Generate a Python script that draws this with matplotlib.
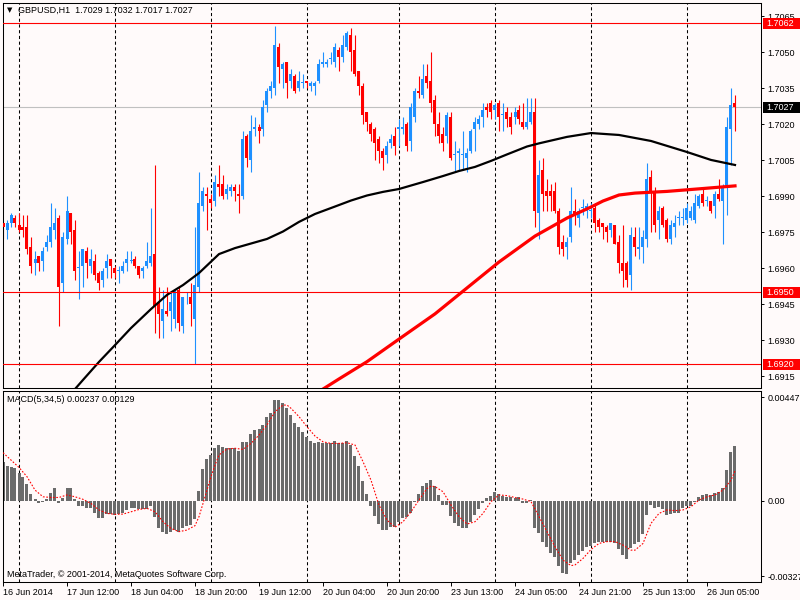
import matplotlib
matplotlib.use('Agg')
import matplotlib.pyplot as plt
from matplotlib.patches import Rectangle
from matplotlib import transforms

# GBPUSD H1, bar 0 = 16 Jun 20:00
opens = [1.6979, 1.6976, 1.6979, 1.6981, 1.6978, 1.6977, 1.6977, 1.6969, 1.6962, 1.6965,
         1.6963, 1.6969, 1.6971, 1.6976, 1.6981, 1.6954, 1.6972, 1.6983, 1.6976, 1.6960,
         1.6961, 1.6967, 1.6961, 1.6963, 1.6958, 1.6955, 1.6960, 1.6964, 1.6960, 1.6959,
         1.6959, 1.6962, 1.6963, 1.6964, 1.6961, 1.6959, 1.6961, 1.6962, 1.6966, 1.6946,
         1.6938, 1.6942, 1.6942, 1.6939, 1.6951, 1.6936, 1.6947, 1.6948, 1.6939, 1.6952,
         1.6986, 1.6991, 1.6989, 1.6988, 1.6995, 1.6995, 1.6991, 1.6992, 1.6994, 1.6991,
         1.6990, 1.7015, 1.7005, 1.7018, 1.7019, 1.7018, 1.7028, 1.7034, 1.7035, 1.7052,
         1.7043, 1.7046, 1.7038, 1.7040, 1.7035, 1.7037, 1.7038, 1.7036, 1.7036, 1.7038,
         1.7045, 1.7045, 1.7047, 1.7046, 1.7051, 1.7048, 1.7052, 1.7057, 1.7051, 1.7042,
         1.7036, 1.7025, 1.7020, 1.7018, 1.7014, 1.7009, 1.7007, 1.7012, 1.7015, 1.7018,
         1.7018, 1.7020, 1.7013, 1.7023, 1.7034, 1.7032, 1.7040, 1.7038, 1.7030, 1.7020,
         1.7016, 1.7015, 1.7023, 1.7007, 1.7008, 1.7007, 1.7006, 1.7009, 1.7018, 1.7020,
         1.7023, 1.7027, 1.7029, 1.7026, 1.7029, 1.7024, 1.7025, 1.7023, 1.7023, 1.7026,
         1.7021, 1.7019, 1.7021, 1.7025, 1.6983, 1.7001, 1.6992, 1.6992, 1.6992, 1.6984,
         1.6971, 1.6969, 1.6973, 1.6984, 1.6981, 1.6985, 1.6984, 1.6984, 1.6985, 1.6980,
         1.6979, 1.6977, 1.6976, 1.6978, 1.6971, 1.6962, 1.6962, 1.6957, 1.6973, 1.6968,
         1.6969, 1.6972, 1.6998, 1.6992, 1.6980, 1.6985, 1.6980, 1.6972, 1.6977, 1.6981,
         1.6981, 1.6980, 1.6981, 1.6980, 1.6986, 1.6991, 1.6988, 1.6988, 1.6986, 1.6991,
         1.6988, 1.6994, 1.7018, 1.7029]
highs = [1.6980, 1.6980, 1.6983, 1.6982, 1.6983, 1.6982, 1.6982, 1.6973, 1.6967, 1.6965,
         1.6969, 1.6974, 1.6987, 1.6985, 1.6982, 1.6975, 1.6990, 1.6983, 1.6980, 1.6967,
         1.6968, 1.6969, 1.6968, 1.6966, 1.6959, 1.6960, 1.6966, 1.6964, 1.6961, 1.6961,
         1.6963, 1.6967, 1.6967, 1.6965, 1.6961, 1.6961, 1.6971, 1.6985, 1.7003, 1.6952,
         1.6951, 1.6952, 1.6950, 1.6951, 1.6952, 1.6948, 1.6950, 1.6954, 1.6977, 1.7000,
         1.6994, 1.6994, 1.6991, 1.6999, 1.7003, 1.6999, 1.6995, 1.6995, 1.6995, 1.6995,
         1.7017, 1.7016, 1.7024, 1.7023, 1.7020, 1.7030, 1.7035, 1.7038, 1.7061, 1.7054,
         1.7046, 1.7046, 1.7043, 1.7041, 1.7042, 1.7041, 1.7038, 1.7038, 1.7038, 1.7047,
         1.7050, 1.7047, 1.7050, 1.7054, 1.7052, 1.7057, 1.7059, 1.7060, 1.7057, 1.7042,
         1.7037, 1.7025, 1.7021, 1.7019, 1.7015, 1.7010, 1.7013, 1.7016, 1.7019, 1.7022,
         1.7023, 1.7021, 1.7029, 1.7035, 1.7040, 1.7045, 1.7045, 1.7050, 1.7032, 1.7025,
         1.7019, 1.7025, 1.7025, 1.7013, 1.7010, 1.7017, 1.7010, 1.7018, 1.7023, 1.7024,
         1.7029, 1.7029, 1.7030, 1.7029, 1.7030, 1.7029, 1.7027, 1.7025, 1.7027, 1.7028,
         1.7029, 1.7031, 1.7031, 1.7031, 1.7005, 1.7006, 1.6997, 1.6995, 1.6996, 1.6985,
         1.6974, 1.6973, 1.6994, 1.6989, 1.6985, 1.6989, 1.6987, 1.6987, 1.6987, 1.6981,
         1.6979, 1.6978, 1.6979, 1.6978, 1.6974, 1.6978, 1.6963, 1.6977, 1.6977, 1.6977,
         1.6976, 1.7004, 1.7001, 1.6994, 1.6986, 1.6986, 1.6981, 1.6980, 1.6982, 1.6984,
         1.6985, 1.6987, 1.6986, 1.6991, 1.6991, 1.6993, 1.6990, 1.6988, 1.6992, 1.6997,
         1.6995, 1.7023, 1.7035, 1.7032]
lows = [1.6972, 1.6972, 1.6977, 1.6977, 1.6975, 1.6973, 1.6966, 1.6958, 1.6957, 1.6959,
        1.6959, 1.6967, 1.6969, 1.6972, 1.6936, 1.6950, 1.6970, 1.6970, 1.6955, 1.6947,
        1.6952, 1.6956, 1.6958, 1.6955, 1.6951, 1.6952, 1.6956, 1.6956, 1.6956, 1.6954,
        1.6958, 1.6959, 1.6962, 1.6960, 1.6956, 1.6956, 1.6960, 1.6961, 1.6933, 1.6931,
        1.6931, 1.6940, 1.6934, 1.6935, 1.6934, 1.6933, 1.6945, 1.6936, 1.6920, 1.6950,
        1.6984, 1.6976, 1.6985, 1.6986, 1.6990, 1.6989, 1.6989, 1.6990, 1.6988, 1.6983,
        1.6989, 1.7002, 1.7000, 1.7015, 1.7012, 1.7015, 1.7025, 1.7031, 1.7032, 1.7037,
        1.7035, 1.7031, 1.7035, 1.7033, 1.7034, 1.7035, 1.7035, 1.7034, 1.7032, 1.7037,
        1.7044, 1.7044, 1.7045, 1.7044, 1.7042, 1.7046, 1.7051, 1.7042, 1.7040, 1.7032,
        1.7020, 1.7017, 1.7013, 1.7005, 1.7004, 1.7001, 1.7004, 1.7010, 1.7007, 1.7011,
        1.7016, 1.7009, 1.7009, 1.7021, 1.7031, 1.7031, 1.7035, 1.7025, 1.7015, 1.7012,
        1.7009, 1.7012, 1.7005, 1.7000, 1.7001, 1.7001, 1.7000, 1.7008, 1.7009, 1.7018,
        1.7019, 1.7023, 1.7022, 1.7022, 1.7017, 1.7017, 1.7019, 1.7016, 1.7020, 1.7020,
        1.7018, 1.7018, 1.7020, 1.6977, 1.6972, 1.6984, 1.6984, 1.6984, 1.6983, 1.6966,
        1.6965, 1.6964, 1.6971, 1.6978, 1.6977, 1.6982, 1.6981, 1.6981, 1.6975, 1.6975,
        1.6972, 1.6971, 1.6973, 1.6970, 1.6958, 1.6952, 1.6952, 1.6951, 1.6965, 1.6964,
        1.6962, 1.6969, 1.6975, 1.6975, 1.6972, 1.6977, 1.6971, 1.6970, 1.6973, 1.6978,
        1.6978, 1.6979, 1.6980, 1.6979, 1.6985, 1.6986, 1.6986, 1.6983, 1.6981, 1.6988,
        1.6970, 1.6982, 1.7003, 1.7017]
closes = [1.6977, 1.6979, 1.6982, 1.6979, 1.6976, 1.6976, 1.6968, 1.6961, 1.6964, 1.6962,
          1.6967, 1.6971, 1.6977, 1.6979, 1.6952, 1.6973, 1.6984, 1.6975, 1.6959, 1.6960,
          1.6968, 1.6962, 1.6964, 1.6957, 1.6954, 1.6959, 1.6963, 1.6961, 1.6958, 1.6959,
          1.6961, 1.6964, 1.6963, 1.6961, 1.6957, 1.6960, 1.6963, 1.6965, 1.6944, 1.6941,
          1.6943, 1.6941, 1.6946, 1.6951, 1.6937, 1.6948, 1.6947, 1.6945, 1.6953, 1.6987,
          1.6992, 1.6990, 1.6987, 1.6996, 1.6994, 1.6990, 1.6993, 1.6994, 1.6992, 1.6990,
          1.7014, 1.7006, 1.7017, 1.7019, 1.7017, 1.7027, 1.7034, 1.7036, 1.7053, 1.7044,
          1.7045, 1.7037, 1.7041, 1.7034, 1.7038, 1.7037, 1.7037, 1.7037, 1.7037, 1.7045,
          1.7046, 1.7046, 1.7047, 1.7052, 1.7048, 1.7053, 1.7058, 1.7050, 1.7041, 1.7036,
          1.7024, 1.7021, 1.7016, 1.7012, 1.7009, 1.7006, 1.7011, 1.7014, 1.7011, 1.7019,
          1.7019, 1.7011, 1.7027, 1.7034, 1.7033, 1.7039, 1.7037, 1.7029, 1.7020, 1.7015,
          1.7012, 1.7024, 1.7006, 1.7007, 1.7009, 1.7007, 1.7008, 1.7017, 1.7021, 1.7022,
          1.7026, 1.7026, 1.7025, 1.7028, 1.7023, 1.7024, 1.7022, 1.7019, 1.7025, 1.7022,
          1.7019, 1.7021, 1.7025, 1.6984, 1.6999, 1.6991, 1.6990, 1.6990, 1.6984, 1.6969,
          1.6968, 1.6971, 1.6984, 1.6982, 1.6984, 1.6985, 1.6986, 1.6984, 1.6979, 1.6977,
          1.6977, 1.6975, 1.6979, 1.6970, 1.6962, 1.6959, 1.6955, 1.6974, 1.6969, 1.6969,
          1.6973, 1.6997, 1.6992, 1.6978, 1.6984, 1.6978, 1.6972, 1.6978, 1.6979, 1.6981,
          1.6981, 1.6985, 1.6984, 1.6987, 1.6990, 1.6987, 1.6988, 1.6984, 1.6991, 1.6989,
          1.6994, 1.7019, 1.7028, 1.7027]

# moving averages (bar index, price)
ma_black_idx = [18, 20, 24, 28, 32, 37, 41, 45, 49, 54, 58, 62, 66, 70, 74, 78, 83, 87, 91, 95,
                99, 105, 110, 114, 118, 122, 126, 131, 134, 141, 147, 154, 162, 171, 177, 183]
ma_black = [1.69097, 1.69135, 1.69210, 1.69280, 1.69351, 1.69430, 1.69489, 1.69530, 1.69580, 1.69659,
            1.69684, 1.69703, 1.69722, 1.69753, 1.69793, 1.69826, 1.69857, 1.69882, 1.69903, 1.69918,
            1.69930, 1.69959, 1.69984, 1.70005, 1.70022, 1.70047, 1.70074, 1.70107, 1.70120, 1.70147,
            1.70163, 1.70155, 1.70130, 1.70084, 1.70051, 1.70030]
ma_red_idx = [80, 84, 91, 99, 108, 116, 124, 133, 141, 147, 150, 154, 158, 166, 175, 183]
ma_red = [1.69097, 1.69139, 1.69211, 1.69305, 1.69410, 1.69518, 1.69626, 1.69734, 1.69809, 1.69855,
          1.69880, 1.69905, 1.69913, 1.69920, 1.69932, 1.69943]

# MACD(5,34,5) histogram
macd = [0.00169, 0.00152, 0.00147, 0.00140, 0.00121, 0.00104, 0.00072, 0.00029, 0.00007, -0.00012,
        -0.00006, 0.00009, 0.00032, 0.00053, -0.00012, 0.00010, 0.00053, 0.00053, 0.00007, -0.00022,
        -0.00022, -0.00030, -0.00030, -0.00052, -0.00074, -0.00074, -0.00058, -0.00058, -0.00062, -0.00058,
        -0.00052, -0.00040, -0.00033, -0.00030, -0.00036, -0.00036, -0.00036, -0.00022, -0.00069, -0.00117,
        -0.00134, -0.00146, -0.00137, -0.00127, -0.00134, -0.00120, -0.00110, -0.00107, -0.00079, 0.00042,
        0.00136, 0.00180, 0.00198, 0.00227, 0.00240, 0.00234, 0.00227, 0.00229, 0.00227, 0.00216,
        0.00254, 0.00254, 0.00287, 0.00306, 0.00310, 0.00328, 0.00361, 0.00378, 0.00436, 0.00436,
        0.00424, 0.00400, 0.00371, 0.00338, 0.00320, 0.00299, 0.00277, 0.00258, 0.00251, 0.00255,
        0.00251, 0.00251, 0.00248, 0.00258, 0.00248, 0.00251, 0.00258, 0.00241, 0.00195, 0.00150,
        0.00085, 0.00029, -0.00023, -0.00065, -0.00101, -0.00127, -0.00127, -0.00113, -0.00115, -0.00091,
        -0.00076, -0.00069, -0.00052, -0.00004, 0.00029, 0.00063, 0.00075, 0.00089, 0.00063, 0.00025,
        -0.00019, -0.00019, -0.00066, -0.00095, -0.00108, -0.00117, -0.00117, -0.00091, -0.00062, -0.00036,
        -0.00012, 0.00010, 0.00022, 0.00036, 0.00027, 0.00022, 0.00014, 0.00014, 0.00010, 0.00014,
        -0.00009, -0.00009, 0.00003, -0.00117, -0.00141, -0.00180, -0.00202, -0.00225, -0.00245, -0.00281,
        -0.00315, -0.00317, -0.00271, -0.00257, -0.00235, -0.00216, -0.00199, -0.00195, -0.00185, -0.00180,
        -0.00180, -0.00180, -0.00180, -0.00185, -0.00209, -0.00235, -0.00253, -0.00206, -0.00188, -0.00180,
        -0.00146, -0.00062, -0.00019, -0.00033, -0.00026, -0.00036, -0.00062, -0.00059, -0.00055, -0.00052,
        -0.00030, -0.00023, -0.00023, -0.00004, 0.00017, 0.00025, 0.00029, 0.00025, 0.00032, 0.00036,
        0.00053, 0.00133, 0.00212, 0.00237]
signal_idx = [0, 4, 6, 8, 10, 12, 14, 16, 18, 20, 22, 24, 26, 28, 30, 32, 34, 36, 38, 40,
              42, 44, 46, 48, 49, 50, 51, 52, 53, 54, 56, 58, 60, 62, 64, 66, 68, 70, 71, 72,
              74, 76, 78, 80, 82, 84, 86, 88, 90, 92, 94, 96, 98, 100, 102, 104, 106, 107, 108, 110,
              112, 114, 116, 118, 120, 122, 124, 126, 128, 130, 132, 134, 136, 138, 140, 142, 143, 145, 147, 149,
              151, 153, 155, 157, 158, 160, 162, 164, 166, 168, 170, 172, 174, 176, 178, 180, 182, 183]
signal = [0.00208, 0.00144, 0.00104, 0.00046, 0.00017, 0.00014, 0.00014, 0.00025, 0.00017, 0.00006,
          -0.00012, -0.00040, -0.00055, -0.00059, -0.00058, -0.00048, -0.00038, -0.00033, -0.00048, -0.00091,
          -0.00120, -0.00134, -0.00127, -0.00108, -0.00069, -0.00012, 0.00046, 0.00104, 0.00154, 0.00198,
          0.00224, 0.00227, 0.00222, 0.00248, 0.00284, 0.00328, 0.00385, 0.00414, 0.00414, 0.00400,
          0.00364, 0.00320, 0.00280, 0.00255, 0.00248, 0.00248, 0.00251, 0.00241, 0.00169, 0.00089,
          -0.00019, -0.00084, -0.00115, -0.00091, -0.00048, 0.00003, 0.00053, 0.00063, 0.00061, 0.00039,
          -0.00019, -0.00069, -0.00101, -0.00091, -0.00055, -0.00004, 0.00025, 0.00022, 0.00014, 0.00007,
          -0.00004, -0.00069, -0.00134, -0.00199, -0.00257, -0.00281, -0.00278, -0.00250, -0.00211, -0.00185,
          -0.00177, -0.00177, -0.00192, -0.00214, -0.00214, -0.00185, -0.00098, -0.00055, -0.00040, -0.00043,
          -0.00040, -0.00026, 0.00003, 0.00017, 0.00025, 0.00046, 0.00089, 0.00129]

# horizontal levels and day separators
red_levels = [1.7062, 1.6950, 1.6920]
bid = 1.7027
day_bars = [4, 28, 52, 76, 99, 123, 147, 171]

price_ticks = [1.7065, 1.7050, 1.7035, 1.7020, 1.7005, 1.6990, 1.6975, 1.6960, 1.6945, 1.6930, 1.6915]
time_ticks = [0, 16, 32, 48, 64, 80, 96, 112, 128, 144, 160, 176]
time_labels = ['16 Jun 2014', '17 Jun 12:00', '18 Jun 04:00', '18 Jun 20:00', '19 Jun 12:00',
               '20 Jun 04:00', '20 Jun 20:00', '23 Jun 13:00', '24 Jun 05:00', '24 Jun 21:00',
               '25 Jun 13:00', '26 Jun 05:00']
macd_ticks = [0.00447, 0.0, -0.00327]
macd_labels = ['0.00447', '0.00', '-0.00327']

BG = '#FFFAFA'
BULL = '#1E90FF'
BEAR = '#FF0000'
FS = 6.5
plt.rcParams['font.family'] = ['Liberation Sans', 'DejaVu Sans']
plt.rcParams['font.size'] = FS

W, H = 800, 600
fig = plt.figure(figsize=(8, 6), dpi=100, facecolor=BG)


def box(l, t, r, b):
    return [l / W, 1 - b / H, (r - l) / W, (b - t) / H]


ax1 = fig.add_axes(box(2.5, 2.5, 761, 388.3), facecolor=BG)
ax2 = fig.add_axes(box(2.5, 390.7, 761, 581.7), facecolor=BG)

for ax in (ax1, ax2):
    for s in ax.spines.values():
        s.set_color('black')
        s.set_linewidth(0.75)
    ax.set_xlim(-0.125, 189.5)
    ax.yaxis.tick_right()
    ax.tick_params(axis='y', direction='out', length=2.2, width=0.7, pad=2.5, labelsize=FS)
    for d in day_bars:
        ax.axvline(d, color='black', lw=0.75, ls=(0, (3, 2.5)), zorder=1)

# candles
n = len(opens)
xs = list(range(n))
col = [BULL if closes[i] >= opens[i] else BEAR for i in xs]
ax1.vlines(xs, lows, highs, colors=col, lw=0.8, zorder=2)
bottoms = [min(opens[i], closes[i]) for i in xs]
heights = [max(abs(closes[i] - opens[i]), 0.00004) for i in xs]
ax1.bar(xs, heights, bottom=bottoms, width=0.75, color=col, linewidth=0, zorder=3,
        antialiased=False)

ax1.plot(ma_black_idx, ma_black, color='black', lw=1.6, zorder=4)
ax1.plot(ma_red_idx, ma_red, color='#FF0000', lw=2.3, zorder=4)

for lv in red_levels:
    ax1.axhline(lv, color='#FF0000', lw=0.8, zorder=5)
ax1.axhline(bid, color='#C0C0C0', lw=0.8, zorder=1.5)

ax1.set_ylim(1.691001, 1.707066)
ax1.set_yticks(price_ticks)
ax1.set_yticklabels(['%.4f' % p for p in price_ticks])
ax1.set_xticks([])

# price tags on the scale
tr = transforms.blended_transform_factory(fig.transFigure, ax1.transData)
tag_h = 10.5 / 24014
for lv, fc in [(1.7062, '#FF0000'), (1.6950, '#FF0000'), (1.6920, '#FF0000'), (bid, 'black')]:
    ax1.add_patch(Rectangle((762.5 / W, lv - tag_h / 2), 37.5 / W, tag_h, transform=tr,
                            facecolor=fc, edgecolor='none', clip_on=False, zorder=6))
    ax1.text(766.5 / W, lv, '%.4f' % lv, transform=tr, color='white', va='center', ha='left',
             fontsize=FS, clip_on=False, zorder=7)

# MACD panel
ax2.bar(xs, macd, width=0.75, color='#6B6B6B', linewidth=0, zorder=2, antialiased=False)
ax2.plot(signal_idx, signal, color='#FF0000', lw=0.8, ls=(0, (1.5, 1.5)), zorder=3)
ax2.set_ylim(-0.003506, 0.004762)
ax2.set_yticks(macd_ticks)
ax2.set_yticklabels(macd_labels)
ax2.set_xticks(time_ticks)
ax2.set_xticklabels(time_labels, ha='left')
ax2.tick_params(axis='x', direction='out', length=3, width=0.7, pad=1.5, labelsize=FS)

fig.text(6.5 / W, 1 - 10.5 / H, '\u25BC', fontsize=5, va='center', ha='left', family='DejaVu Sans')
fig.text(18 / W, 1 - 10.7 / H, 'GBPUSD,H1  1.7029 1.7032 1.7017 1.7027', va='center', ha='left')
fig.text(7 / W, 1 - 399.3 / H, 'MACD(5,34,5) 0.00237 0.00129', va='center', ha='left')
fig.text(7 / W, 1 - 574.3 / H, 'MetaTrader, \u00a9 2001-2014, MetaQuotes Software Corp.',
         va='center', ha='left')

fig.savefig('out.png', dpi=100, facecolor=BG)
